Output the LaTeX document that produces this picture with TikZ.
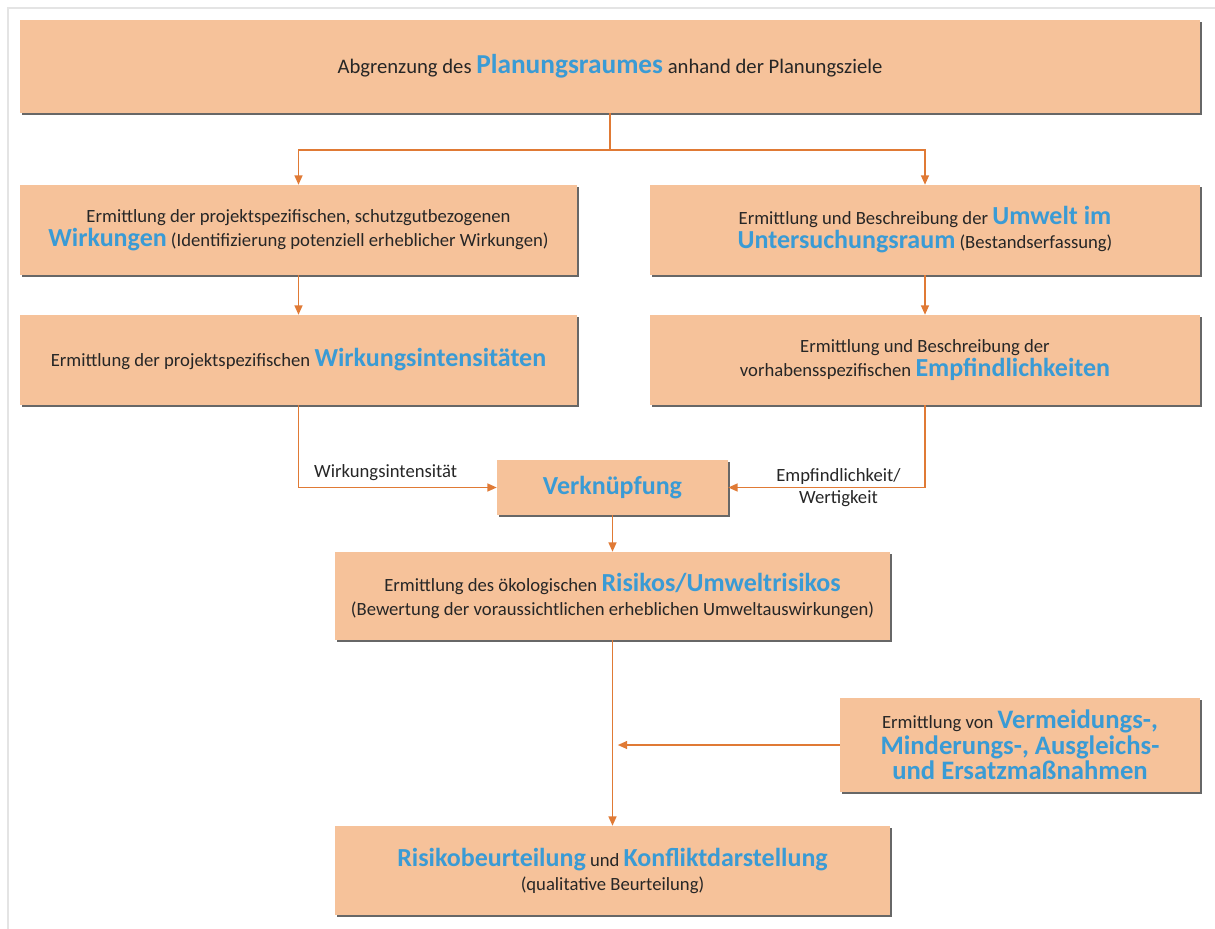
\documentclass[tikz,border=0pt]{standalone}
\usepackage{fontspec}
\setmainfont{Carlito}
\usetikzlibrary{arrows.meta,shadows}
\definecolor{boxfill}{HTML}{F6C29A}
\definecolor{arrowc}{HTML}{E07A35}
\definecolor{bluet}{HTML}{3A9BD5}
\definecolor{framec}{HTML}{E4E4E4}
\newcommand{\bw}[1]{{\color{bluet}\fontsize{19.5}{20}\selectfont\bfseries #1}}
\newcommand{\bwt}[1]{{\color{bluet}\fontsize{20.5}{21}\selectfont\bfseries #1}}
\newcommand{\bwm}[1]{{\color{bluet}\fontsize{20}{19}\selectfont\bfseries #1}}
\begin{document}
\begin{tikzpicture}[x=0.75pt,y=-0.75pt,
  box/.style={rectangle, fill=boxfill, inner sep=0pt, align=center,
    font=\fontsize{14}{18}\selectfont, text=black!85,
    drop shadow={shadow xshift=1.6pt, shadow yshift=-1.8pt, fill=black!70, opacity=0.85}},
  conn/.style={draw=arrowc, line width=1pt},
  arr/.style={conn, -{Triangle[width=6pt,length=7pt]}},
  lbl/.style={font=\fontsize{14}{16}\selectfont, text=black!85, align=center}
]
\useasboundingbox (0,0) rectangle (1215,929);
\draw[framec, line width=1pt] (8,929) -- (8,8) -- (1215,8);

\node[box, minimum width=885pt, minimum height=69.75pt, font=\fontsize{15.5}{18}\selectfont] (top) at (610,66.5)
  {Abgrenzung des \bwt{Planungsraumes} anhand der Planungsziele};

\node[box, minimum width=417.75pt, minimum height=67.5pt] (l1) at (298.5,230)
  {Ermittlung der projektspezifischen, schutzgutbezogenen\\
   \bw{Wirkungen} (Identifizierung potenziell erheblicher Wirkungen)};

\node[box, minimum width=412.5pt, minimum height=67.5pt] (r1) at (925,230)
  {Ermittlung und Beschreibung der \bw{Umwelt im}\\
   \bw{Untersuchungsraum} (Bestandserfassung)};

\node[box, minimum width=417.75pt, minimum height=67.5pt] (l2) at (298.5,360)
  {Ermittlung der projektspezifischen \bw{Wirkungsintensitäten}};

\node[box, minimum width=412.5pt, minimum height=67.5pt] (r2) at (925,360)
  {Ermittlung und Beschreibung der\\
   vorhabensspezifischen \bw{Empfindlichkeiten}};

\node[box, minimum width=173.25pt, minimum height=41.25pt] (verk) at (612.5,487.5)
  {\bw{Verknüpfung}};

\node[box, minimum width=416.25pt, minimum height=66pt] (risk) at (612.5,596)
  {Ermittlung des ökologischen \bw{Risikos/Umweltrisikos}\\
   (Bewertung der voraussichtlichen erheblichen Umweltauswirkungen)};

\node[box, minimum width=270pt, minimum height=70.5pt, font=\fontsize{14}{19}\selectfont] (mit) at (1020,745)
  {Ermittlung von \bwm{Vermeidungs-,}\\
   \bwm{Minderungs-, Ausgleichs-}\\
   \bwm{und Ersatzmaßnahmen}};

\node[box, minimum width=416.25pt, minimum height=66.75pt] (bot) at (612.5,870.5)
  {\bw{Risikobeurteilung} und \bw{Konfliktdarstellung}\\
   (qualitative Beurteilung)};

\coordinate (split) at (610,150);
\draw[conn] (top.south) -- (split);
\draw[arr] (split) -| (l1.north);
\draw[arr] (split) -| (r1.north);
\draw[arr] (l1) -- (l2);
\draw[arr] (r1) -- (r2);
\draw[arr] (l2.south) |- node[lbl, pos=0.72, above=1pt] {Wirkungsintensität} (verk.west);
\draw[arr] (r2.south) |- node[lbl, pos=0.72] {Empfindlichkeit/\\Wertigkeit} (verk.east);
\draw[arr] (verk) -- (risk);
\draw[arr] (risk) -- (bot);
\draw[arr, shorten >=4pt] (mit.west) -- (mit.west -| risk.south);
\end{tikzpicture}
\end{document}
